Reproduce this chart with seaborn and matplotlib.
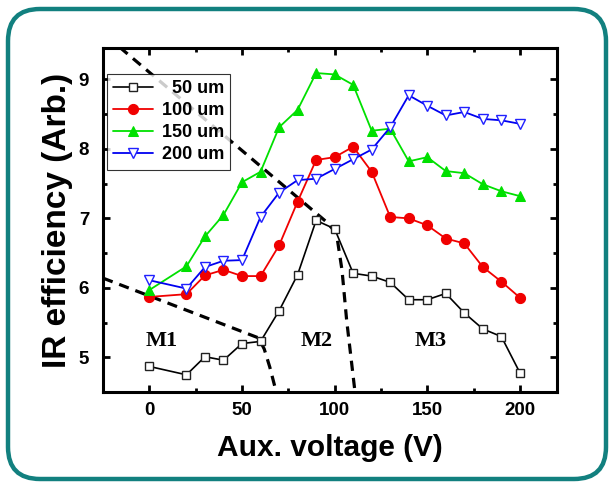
import numpy as np
import pandas as pd
import matplotlib
matplotlib.use("Agg")
import matplotlib.pyplot as plt
import seaborn as sns
from matplotlib.patches import FancyBboxPatch
from matplotlib.ticker import MultipleLocator

# Data
voltage = [0, 20, 30, 40, 50, 60, 70, 80, 90, 100, 110, 120, 130, 140, 150, 160, 170, 180, 190, 200]
eff_50 = [4.87, 4.75, 5.01, 4.96, 5.20, 5.23, 5.67, 6.19, 6.97, 6.85, 6.21, 6.17, 6.08, 5.83, 5.83, 5.92, 5.64, 5.41, 5.30, 4.78]
eff_100 = [5.87, 5.91, 6.18, 6.26, 6.17, 6.17, 6.61, 7.24, 7.84, 7.88, 8.03, 7.67, 7.02, 7.00, 6.90, 6.71, 6.64, 6.30, 6.09, 5.86]
eff_150 = [5.97, 6.31, 6.74, 7.05, 7.52, 7.67, 8.31, 8.56, 9.09, 9.07, 8.92, 8.26, 8.29, 7.82, 7.88, 7.68, 7.65, 7.49, 7.39, 7.32]
eff_200 = [6.11, 5.99, 6.30, 6.39, 6.40, 7.02, 7.37, 7.55, 7.57, 7.71, 7.85, 7.99, 8.31, 8.77, 8.62, 8.48, 8.53, 8.43, 8.41, 8.36]
series_labels = ["  50 um", "100 um", "150 um", "200 um"]

# region boundaries (dashed)
bound1_x = [-16, 96, 101, 104, 106.5, 111]
bound1_y = [9.46, 6.94, 6.78, 6.25, 5.53, 4.5]
bound2_x = [-25, 59, 62, 65, 68.5]
bound2_y = [6.14, 5.28, 5.12, 4.86, 4.5]

region_labels = ["M1", "M2", "M3"]
region_x = [6.5, 90.5, 152]
region_y = [5.24, 5.24, 5.24]

sns.set_theme(style="ticks")
plt.rcParams["font.family"] = ["Liberation Sans", "DejaVu Sans"]
plt.rcParams["font.weight"] = "bold"
plt.rcParams["text.color"] = "black"
plt.rcParams["axes.labelcolor"] = "black"

fig = plt.figure(figsize=(6.1, 4.83), dpi=100)

# rounded teal frame
bg = fig.add_axes([0, 0, 1, 1], zorder=-1)
bg.set_xlim(0, 610)
bg.set_ylim(483, 0)
bg.axis("off")
bg.add_patch(FancyBboxPatch((8, 9), 598, 470, boxstyle="round,pad=0,rounding_size=32",
                            fc="white", ec="#12807f", lw=3.2))

ax = fig.add_axes([0.169, 0.188, 0.744, 0.7126])
ax.patch.set_alpha(0)

styles = [
    dict(color="black", marker="s", markersize=5.5, markerfacecolor="white", markeredgecolor="#222222", markeredgewidth=1.0, lw=1.2),
    dict(color="#f00000", marker="o", markersize=7.3, markerfacecolor="#f00000", markeredgecolor="#f00000", lw=1.3),
    dict(color="#00e000", marker="^", markersize=7.5, markerfacecolor="#00e000", markeredgecolor="#00e000", lw=1.3),
    dict(color="#0000f0", marker="v", markersize=7.8, markerfacecolor="white", markeredgecolor="#2020ff", markeredgewidth=1.0, lw=1.3),
]

for vals, lab, st in zip([eff_50, eff_100, eff_150, eff_200], series_labels, styles):
    df = pd.DataFrame({"Voltage": voltage, "Eff": vals})
    sns.lineplot(data=df, x="Voltage", y="Eff", ax=ax, label=lab, **st)

for bx, by in [(bound1_x, bound1_y), (bound2_x, bound2_y)]:
    ax.plot(bx, by, color="black", lw=2.3, dashes=(3.2, 2.2), zorder=1)

for t, x, y in zip(region_labels, region_x, region_y):
    ax.text(x, y, t, ha="center", va="center", fontsize=16, fontweight="bold",
            family="Liberation Serif")

ax.set_xlim(-25, 220)
ax.set_ylim(4.5, 9.45)
ax.xaxis.set_major_locator(MultipleLocator(50))
ax.xaxis.set_minor_locator(MultipleLocator(25))
ax.yaxis.set_major_locator(MultipleLocator(1))
ax.yaxis.set_minor_locator(MultipleLocator(0.5))
ax.tick_params(which="both", direction="in", top=True, right=True, width=2, colors="black")
ax.tick_params(which="major", length=5, labelsize=13.5)
ax.tick_params(which="minor", length=3)
ax.tick_params(axis="x", which="major", pad=7)
ax.tick_params(axis="y", which="major", pad=10)
for s in ax.spines.values():
    s.set_linewidth(2.2)
    s.set_color("black")

ax.set_xlabel("Aux. voltage (V)", fontsize=21.5, fontweight="bold", labelpad=11)
ax.set_ylabel("IR efficiency (Arb.)", fontsize=24, fontweight="bold", labelpad=4)

leg = ax.legend(loc="upper left", bbox_to_anchor=(0.008, 0.925), fontsize=13,
                frameon=True, fancybox=False, edgecolor="black", handlelength=2.2,
                handletextpad=0.5, borderpad=0.35, labelspacing=0.28, borderaxespad=0)
leg.get_frame().set_linewidth(0.8)

fig.savefig("out.png", dpi=100)
